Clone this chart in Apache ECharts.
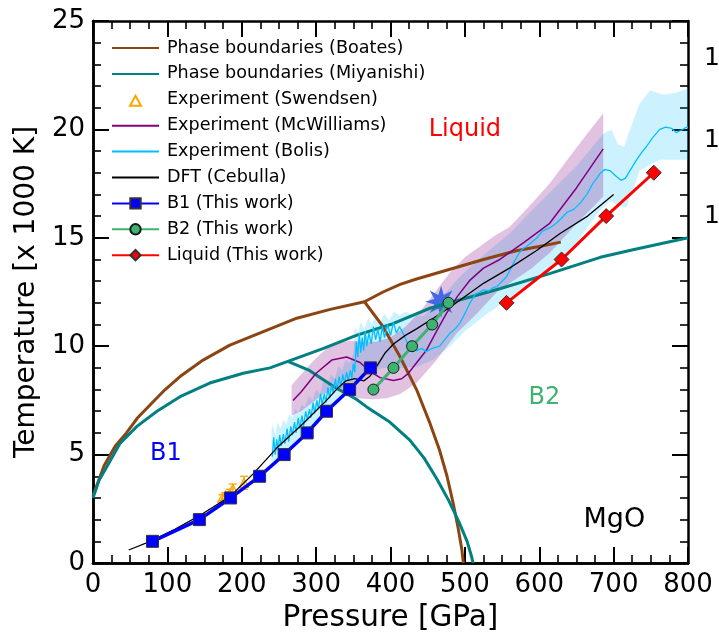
<!DOCTYPE html>
<html>
<head>
<meta charset="utf-8">
<script src="https://cdn.jsdelivr.net/npm/echarts@6/dist/echarts.min.js"></script>
<style>
  html, body { margin: 0; padding: 0; background: #ffffff; }
  #chart { width: 719px; height: 634px; }
</style>
</head>
<body>
<div id="chart"></div>
<script>
// MgO phase diagram: pressure [GPa] vs temperature [x 1000 K]

// Phase boundaries (Boates): melting curve and B1-B2 boundary
const boatesMelt = [[0,3.1],[15,4.5],[30,5.4],[45,6.0],[60,6.7],[77,7.3],[97,8.0],[117,8.6],[148,9.36],[184,10.05],[229,10.67],[274,11.29],[319,11.7],[365,12.05],[390,12.5],[413,12.85],[435,13.1],[480,13.55],[525,14.0],[569,14.4],[600,14.6],[629,14.8]];
const boatesB1B2 = [[365,12.05],[390,10.9],[413,9.5],[435,8.0],[453,6.45],[466,5.2],[476,4.0],[484,2.8],[491,1.6],[496,0.6],[498,0]];

// Phase boundaries (Miyanishi)
const miyMelt = [[0,3.0],[8,3.8],[18,4.4],[36,5.5],[59,6.3],[86,7.0],[117,7.67],[157,8.3],[202,8.75],[238,9.0],[262,9.3],[310,9.9],[354,10.5],[400,11.0],[453,11.75],[500,12.2],[547,12.65],[614,13.35],[682,14.1],[726,14.45],[800,15.0]];
const miyB1B2 = [[262,9.3],[290,8.9],[323,8.15],[354,7.55],[368,7.2],[399,6.5],[426,5.67],[445,4.85],[462,3.9],[478,2.9],[492,1.9],[503,1.0],[509,0.3],[511,0]];

// Experiment (Swendsen): pressure, temperature, error
const swendsenP   = [174, 178, 181, 184, 188, 203];
const swendsenT   = [3.0, 3.1, 3.05, 3.2, 3.42, 3.7];
const swendsenErr = [0.15, 0.15, 0.15, 0.2, 0.22, 0.3];

// Experiment (McWilliams): line with uncertainty band
const mcwLine = [[269,7.5],[280,7.9],[300,8.75],[321,9.36],[341,9.5],[359,9.25],[372,8.85],[386,8.55],[404,8.42],[415,8.5],[424,8.75],[448,9.8],[462,10.7],[475,11.5],[490,12.3],[507,13.05],[525,13.6],[547,14.0],[580,14.8],[614,15.67],[650,17.3],[686,19.1]];
const mcwUpper = [[267,8.2],[285,8.9],[300,9.45],[315,9.9],[327,10.13],[345,10.25],[360,10.2],[380,10.2],[400,10.4],[420,10.9],[440,11.6],[460,12.5],[480,13.4],[500,14.1],[516,14.5],[540,15.1],[560,15.5],[585,16.4],[614,17.5],[640,18.7],[660,19.6],[686,20.75]];
const mcwLower = [[267,6.8],[280,7.0],[295,7.4],[310,7.8],[325,8.0],[340,7.75],[355,7.6],[375,7.55],[395,7.6],[413,7.8],[435,8.3],[462,9.36],[489,10.6],[516,11.5],[543,12.5],[560,12.9],[590,13.6],[614,14.3],[646,15.5],[686,16.9]];

// Experiment (Bolis): line with uncertainty band
const bolisLine = [[241,4.9],[243,5.8],[245,5.0],[247,5.7],[249,5.2],[251,5.9],[253,5.4],[256,5.95],[258,5.5],[261,6.2],[263,5.6],[266,6.3],[268,5.9],[271,6.5],[273,6.0],[276,6.7],[278,6.2],[281,6.8],[283,6.3],[286,7.0],[288,6.6],[291,7.1],[293,6.7],[296,7.4],[298,6.9],[301,7.5],[303,7.1],[306,7.8],[308,7.3],[311,7.8],[313,7.4],[316,8.1],[318,7.6],[321,8.2],[323,7.8],[326,8.5],[328,8.0],[331,8.6],[333,8.1],[336,8.7],[338,8.3],[341,8.8],[343,8.4],[346,8.9],[348,8.5],[350,9.2],[352,8.8],[354,10.2],[356,9.5],[358,10.6],[360,9.7],[362,10.4],[364,9.8],[366,10.7],[368,10.0],[371,10.6],[374,10.1],[377,10.9],[380,10.3],[383,10.8],[386,10.2],[389,10.9],[392,10.4],[396,11.0],[400,10.5],[404,11.1],[408,10.6],[412,10.9],[417,10.6],[422,10.2],[428,9.9],[435,9.8],[442,9.9],[448,9.75],[453,9.85],[460,9.95],[466,10.0],[473,10.3],[480,10.6],[487,10.8],[493,11.05],[500,11.5],[507,12.0],[514,12.4],[520,12.5],[525,12.6],[532,12.55],[538,12.7],[543,12.75],[550,13.0],[556,13.2],[562,13.6],[568,14.0],[573,14.3],[578,14.5],[583,14.6],[590,14.8],[597,15.0],[604,15.3],[610,15.4],[616,15.5],[623,15.67],[630,15.9],[638,16.2],[646,16.3],[655,16.6],[664,17.0],[672,17.5],[682,17.97],[688,18.15],[695,18.1],[703,17.85],[710,17.65],[716,17.75],[722,18.1],[730,18.55],[738,18.95],[744,19.2],[752,19.6],[762,20.0],[770,20.1],[778,20.05],[784,19.85],[790,19.95],[798,20.1],[800,20.1]];
const bolisUpper = [[240,6.1],[242,6.4],[245,5.9],[248,6.5],[252,6.2],[256,6.6],[260,6.4],[264,6.9],[268,6.7],[272,7.1],[276,6.9],[280,7.3],[285,7.2],[290,7.7],[295,7.5],[300,8.0],[305,7.8],[310,8.4],[315,8.2],[320,8.7],[325,8.5],[330,9.1],[335,8.9],[340,9.4],[345,9.2],[350,9.7],[352,10.9],[356,10.6],[360,11.1],[365,10.8],[370,11.3],[375,11.0],[380,11.4],[386,11.1],[392,11.5],[398,11.2],[405,11.6],[412,11.4],[420,11.6],[432,11.4],[445,11.4],[457,11.8],[475,12.5],[493,13.2],[525,14.2],[560,15.2],[600,16.6],[650,18.3],[686,19.8],[697,20.0],[706,19.3],[714,19.2],[722,20.0],[735,21.2],[749,21.8],[767,21.6],[785,21.7],[800,21.9]];
const bolisLower = [[240,4.6],[245,4.8],[250,4.7],[255,5.0],[260,4.95],[265,5.3],[270,5.5],[275,5.5],[280,5.8],[290,6.15],[300,6.5],[310,6.85],[320,7.2],[330,7.55],[340,7.9],[355,8.4],[370,8.8],[390,9.0],[410,9.0],[435,9.05],[457,9.36],[480,10.0],[502,10.75],[530,11.5],[560,12.2],[590,13.0],[620,13.8],[650,14.7],[659,15.2],[680,16.2],[695,16.7],[705,16.5],[717,16.4],[728,17.4],[735,18.1],[762,18.6],[800,18.6]];

// DFT (Cebulla)
const dftLine = [[48,0.6],[77,1.0],[110,1.55],[144,2.2],[184,3.06],[215,4.1],[247,5.3],[283,6.45],[314,7.5],[330,8.1],[340,8.4],[352,8.5],[364,8.4],[372,8.6],[381,9.05],[393,9.7],[404,10.1],[420,10.5],[435,10.8],[458,11.3],[480,11.8],[525,12.9],[560,13.6],[596,14.4],[628,15.2],[665,16.0],[700,17.0]];

// This work
const b1P = [80, 143, 185, 224, 257, 288, 314, 345, 373];
const b1T = [1, 2, 3, 4, 5, 6, 7, 8, 9];
const b2P = [377, 404, 429, 456, 478];
const b2T = [8, 9, 10, 11, 12];
const liqP = [556, 630, 690, 754];
const liqT = [12, 14, 16, 18];

// Triple point marker
const triplePoint = [468, 12.05];

// Region labels
const regionLabels = [
  { name: 'Liquid', value: [500, 20.0], color: '#ff0000', size: 24 },
  { name: 'B2',     value: [607, 7.6],  color: '#3cb371', size: 24 },
  { name: 'B1',     value: [98, 5.05],  color: '#0000ff', size: 24 },
  { name: 'MgO',    value: [701, 2.0],  color: '#000000', size: 27 }
];

// Secondary scale labels on the right edge
const rightLabelValues = [15.97, 19.51, 23.29];
const rightLabelText = ['1', '1', '1'];

const FONT = 'DejaVu Sans';
const zip = (a, b) => a.map((v, i) => [v, b[i]]);

function starPath(points, inner) {
  let d = '';
  for (let i = 0; i < points * 2; i++) {
    const a = -Math.PI / 2 + i * Math.PI / points;
    const r = i % 2 === 0 ? 1 : inner;
    const x = (50 + 50 * r * Math.cos(a)).toFixed(2);
    const y = (50 + 50 * r * Math.sin(a)).toFixed(2);
    d += (i === 0 ? 'M' : 'L') + x + ' ' + y + ' ';
  }
  return 'path://' + d + 'Z';
}

function plainLine(name, data, color, width, z) {
  return {
    type: 'line', name: name, data: data, z: z,
    symbol: 'none', showSymbol: false, smooth: false,
    lineStyle: { color: color, width: width },
    itemStyle: { color: color, opacity: 0 },
    silent: true, animation: false
  };
}

function band(upper, lower, fill, z) {
  return {
    type: 'custom', z: z, silent: true, animation: false,
    data: [upper[0]],
    renderItem: function (params, api) {
      const pts = upper.map(p => api.coord(p))
        .concat(lower.slice().reverse().map(p => api.coord(p)));
      return { type: 'polygon', shape: { points: pts }, style: { fill: fill } };
    }
  };
}

const chart = echarts.init(document.getElementById('chart'), null, { renderer: 'canvas' });

// Frame axis carrying inward major/minor ticks only
function tickFrame(range, position, split) {
  return Object.assign({
    type: 'value', position: position,
    axisLine: { show: true, onZero: false, lineStyle: { color: '#000', width: 2.5 } },
    axisTick: { show: true, inside: true, length: 16, lineStyle: { color: '#000', width: 2 } },
    minorTick: { show: true, splitNumber: split, length: 8, lineStyle: { color: '#000', width: 1.6 } },
    axisLabel: { show: false },
    splitLine: { show: false },
    minorSplitLine: { show: false }
  }, range);
}

const xRange = { min: 0, max: 800, interval: 100 };
const yRange = { min: 0, max: 25, interval: 5 };

const lineOnly = { opacity: 0 };

const option = {
  backgroundColor: '#ffffff',
  animation: false,
  textStyle: { fontFamily: FONT },
  grid: { left: 93, top: 21, width: 595, height: 542, containLabel: false, outerBoundsMode: 'none' },
  legend: {
    data: [
      { name: 'Phase boundaries (Boates)', itemStyle: lineOnly },
      { name: 'Phase boundaries (Miyanishi)', itemStyle: lineOnly },
      { name: 'Experiment (Swendsen)', icon: 'path://M0 0 M47 13 M18 12.5 L23.5 2.5 L29 12.5 Z' },
      { name: 'Experiment (McWilliams)', itemStyle: lineOnly },
      { name: 'Experiment (Bolis)', itemStyle: lineOnly },
      { name: 'DFT (Cebulla)', itemStyle: lineOnly },
      'B1 (This work)', 'B2 (This work)', 'Liquid (This work)'
    ],
    orient: 'vertical', left: 106, top: 34,
    itemWidth: 47, itemHeight: 13, itemGap: 7.9,
    selectedMode: false,
    textStyle: { fontFamily: FONT, fontSize: 17.6, color: '#000', lineHeight: 17, padding: [0, 0, 0, 3] }
  },
  xAxis: [
    Object.assign({
      type: 'value', position: 'bottom',
      name: 'Pressure [GPa]', nameLocation: 'middle', nameGap: 38,
      nameTextStyle: { fontFamily: FONT, fontSize: 29.5, color: '#000' },
      axisLine: { show: true, onZero: false, lineStyle: { color: '#000', width: 2.5 } },
      axisTick: { show: false },
      axisLabel: { fontFamily: FONT, fontSize: 26, color: '#000', margin: 9 },
      splitLine: { show: false }
    }, xRange),
    tickFrame(xRange, 'bottom', 4),
    tickFrame(xRange, 'top', 4)
  ],
  yAxis: [
    Object.assign({
      type: 'value', position: 'left',
      name: 'Temperature [x 1000 K]', nameLocation: 'middle', nameGap: 47,
      nameTextStyle: { fontFamily: FONT, fontSize: 28, color: '#000' },
      axisLine: { show: true, onZero: false, lineStyle: { color: '#000', width: 2.5 } },
      axisTick: { show: false },
      axisLabel: { fontFamily: FONT, fontSize: 26, color: '#000', margin: 8 },
      splitLine: { show: false }
    }, yRange),
    tickFrame(yRange, 'left', 5),
    tickFrame(yRange, 'right', 5),
    {
      type: 'value', min: 0, max: 25, position: 'right',
      axisLine: { show: false },
      axisTick: { show: false },
      axisLabel: {
        show: true, customValues: rightLabelValues, margin: 16,
        fontFamily: FONT, fontSize: 25, color: '#000',
        formatter: function (v) {
          const i = rightLabelValues.indexOf(v);
          return i >= 0 ? rightLabelText[i] : '';
        }
      },
      splitLine: { show: false }
    }
  ],
  series: [
    band(bolisUpper, bolisLower, 'rgba(0,191,255,0.2)', 1),
    band(mcwUpper, mcwLower, 'rgba(128,0,128,0.24)', 1),
    {
      type: 'scatter', name: 'triple', data: [triplePoint], z: 2, silent: true,
      symbol: starPath(8, 0.45), symbolSize: 32,
      itemStyle: { color: '#4169e1', opacity: 1 }
    },
    plainLine('Phase boundaries (Boates)', boatesMelt, '#8b4513', 3, 3),
    plainLine('Phase boundaries (Boates)', boatesB1B2, '#8b4513', 3, 3),
    plainLine('Phase boundaries (Miyanishi)', miyMelt, '#008080', 3, 3),
    plainLine('Phase boundaries (Miyanishi)', miyB1B2, '#008080', 3, 3),
    {
      type: 'custom', name: 'swendsenErr', z: 4, silent: true,
      data: swendsenP.map((p, i) => [p, swendsenT[i], swendsenErr[i]]),
      renderItem: function (params, api) {
        const p = api.value(0), t = api.value(1), e = api.value(2);
        const top = api.coord([p, t + e]);
        const bot = api.coord([p, t - e]);
        const s = { stroke: '#ffa500', lineWidth: 1.3 };
        return {
          type: 'group',
          children: [
            { type: 'line', shape: { x1: top[0], y1: top[1], x2: bot[0], y2: bot[1] }, style: s },
            { type: 'line', shape: { x1: top[0] - 4, y1: top[1], x2: top[0] + 4, y2: top[1] }, style: s },
            { type: 'line', shape: { x1: bot[0] - 4, y1: bot[1], x2: bot[0] + 4, y2: bot[1] }, style: s }
          ]
        };
      }
    },
    {
      type: 'scatter', name: 'Experiment (Swendsen)', z: 4,
      data: zip(swendsenP, swendsenT),
      symbol: 'triangle', symbolSize: 9,
      itemStyle: { color: 'rgba(255,255,255,0)', borderColor: '#ffa500', borderWidth: 1.3, opacity: 1 }
    },
    plainLine('Experiment (McWilliams)', mcwLine, '#800080', 1.5, 4),
    plainLine('Experiment (Bolis)', bolisLine, '#00bfff', 1.3, 4),
    plainLine('DFT (Cebulla)', dftLine, '#000000', 1.3, 5),
    {
      type: 'line', name: 'B1 (This work)', data: zip(b1P, b1T), z: 6,
      symbol: 'rect', symbolSize: 12, showSymbol: true,
      lineStyle: { color: '#0000ff', width: 3.5 },
      itemStyle: { color: '#0000ff', borderColor: '#333', borderWidth: 1 }
    },
    {
      type: 'line', name: 'B2 (This work)', data: zip(b2P, b2T), z: 6,
      symbol: 'circle', symbolSize: 11, showSymbol: true,
      lineStyle: { color: '#3cb371', width: 3 },
      itemStyle: { color: '#3cb371', borderColor: '#1a1a1a', borderWidth: 1 }
    },
    {
      type: 'line', name: 'Liquid (This work)', data: zip(liqP, liqT), z: 6,
      symbol: 'diamond', symbolSize: 15, showSymbol: true,
      lineStyle: { color: '#ff0000', width: 3 },
      itemStyle: { color: '#ff0000', borderColor: '#333', borderWidth: 1 }
    },
    {
      type: 'scatter', name: 'regions', z: 7, silent: true,
      symbolSize: 0,
      itemStyle: { opacity: 1 },
      data: regionLabels.map(r => ({
        name: r.name, value: r.value,
        label: {
          show: true, position: 'inside', formatter: '{b}', opacity: 1,
          fontFamily: FONT, fontSize: r.size, color: r.color
        }
      }))
    }
  ]
};

chart.setOption(option);
</script>
</body>
</html>
